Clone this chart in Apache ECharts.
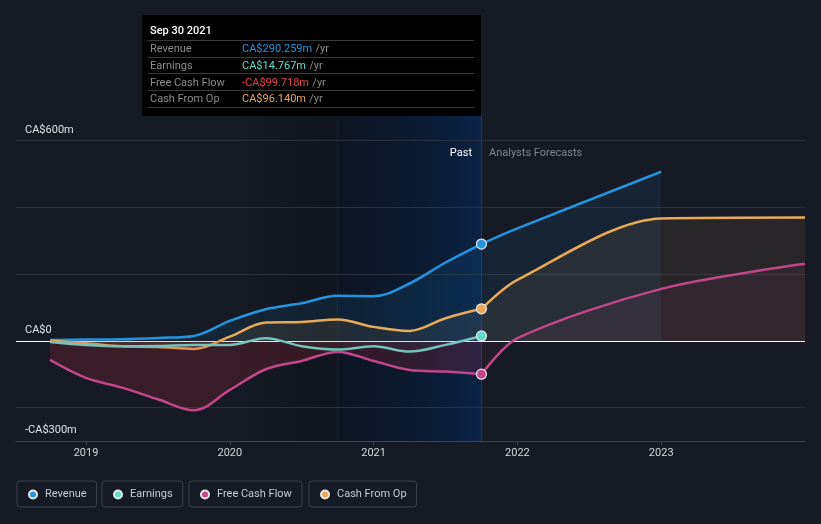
<!DOCTYPE html>
<html>
<head>
<meta charset="utf-8">
<script src="https://cdn.jsdelivr.net/npm/echarts@6.0.0/dist/echarts.min.js"></script>
<style>
html,body{margin:0;padding:0;background:#151a24;}
#chart{width:821px;height:524px;}
</style>
</head>
<body>
<div id="chart"></div>
<script>
// ---- data ----
const pastX = [2018.75, 2019.0, 2019.25, 2019.5, 2019.75, 2020.0, 2020.25, 2020.5, 2020.75, 2021.0, 2021.25, 2021.5, 2021.75];
const revenuePast = [3, 4, 5, 9, 15, 60, 95, 113, 135, 134, 172, 235, 290.259];
const earningsPast = [-3, -12, -16, -15, -12, -12, 8, -16, -26, -16, -32, -12, 14.767];
const fcfPast = [-57, -111, -140, -175, -208, -147, -85, -60, -33, -60, -87, -92, -99.718];
const cfoPast = [1, -7, -16, -18, -24, 13, 55, 57, 64, 42, 30, 68, 96.14];

const revenueFcX = [2021.75, 2022.0, 2023.0];
const revenueFc = [290.259, 337, 507];
const otherFcX = [2021.75, 2022.0, 2023.0, 2024.0];
const fcfFc = [-99.718, 8, 156, 231];
const cfoFc = [96.14, 183, 367, 370];

const yearTicks = [2019, 2020, 2021, 2022, 2023];
const yLabelValues = [-300, 0, 600];
const gridValues = [600, 400, 200, -200];
const tooltipDate = 'Sep 30 2021';

// ---- styling ----
const C = {
  rev: '#2394df', earn: '#5fdccb', fcf: '#c4468a', cfo: '#e8a958'
};
const FONT = 'Roboto, "Noto Sans", sans-serif';

function pairs(xs, ys) { return xs.map((x, i) => [x, ys[i]]); }

function pastSeries(name, xs, ys, color, lineColor, area, z) {
  const n = xs.length;
  return {
    name, type: 'line', data: pairs(xs, ys), smooth: 0.35, z,
    symbol: 'circle', showSymbol: true, showAllSymbol: true,
    symbolSize: (v, p) => p.dataIndex === n - 1 ? 10 : 0,
    color,
    itemStyle: { color, borderColor: '#e8e8e8', borderWidth: 1.2 },
    lineStyle: { width: 2.5, color: lineColor },
    areaStyle: { origin: 0, color: area },
    emphasis: { disabled: true }
  };
}
function fcSeries(name, xs, ys, color, area, z) {
  return {
    name, type: 'line', data: pairs(xs, ys), smooth: 0.3, z,
    symbol: 'none', color,
    lineStyle: { width: 2.5, color },
    areaStyle: { origin: 0, color: area },
    emphasis: { disabled: true }
  };
}

function fmt(v) {
  return (v < 0 ? '-' : '') + 'CA$' + Math.abs(v).toFixed(3) + 'm';
}
const last = a => a[a.length - 1];

const rows = [
  ['Revenue', fmt(last(revenuePast)), C.rev],
  ['Earnings', fmt(last(earningsPast)), '#5fe0cc'],
  ['Free Cash Flow', fmt(last(fcfPast)), '#e8424a'],
  ['Cash From Op', fmt(last(cfoPast)), C.cfo]
];

const graphics = [
  { type: 'rect', shape: { x: 142, y: 15, width: 339, height: 101 }, style: { fill: '#000' }, z: 100 },
  { type: 'text', x: 150, y: 31.5, style: { text: tooltipDate, fill: '#fff', font: '500 11px ' + FONT, verticalAlign: 'middle' }, z: 101 }
];
[40.5, 57.5, 73.5, 90.5, 107.5].forEach(y => {
  graphics.push({ type: 'line', shape: { x1: 148, y1: y, x2: 474, y2: y }, style: { stroke: '#3a3a3a', lineWidth: 1 }, z: 101 });
});
rows.forEach((r, i) => {
  const y = 49.3 + i * 16.8;
  graphics.push({ type: 'text', x: 150, y, style: { text: r[0], fill: '#8d8d8d', font: '11px ' + FONT, verticalAlign: 'middle' }, z: 101 });
  graphics.push({ type: 'text', x: 242, y, style: {
    text: '{v|' + r[1] + '} {u|/yr}', verticalAlign: 'middle',
    rich: { v: { fill: r[2], font: '11px ' + FONT }, u: { fill: '#8d8d8d', font: '11px ' + FONT } }
  }, z: 101 });
});
graphics.push({ type: 'text', x: 472, y: 153, style: { text: 'Past', fill: '#ffffff', font: '11px ' + FONT, align: 'right', verticalAlign: 'middle' }, z: 50 });
graphics.push({ type: 'text', x: 489, y: 153, style: { text: 'Analysts Forecasts', fill: '#80858e', font: '11px ' + FONT, align: 'left', verticalAlign: 'middle' }, z: 50 });

function legend(name, left) {
  return {
    data: [{ name, icon: 'circle' }], left, top: 481,
    itemWidth: 8, itemHeight: 8,
    borderColor: '#3b414b', borderWidth: 1, borderRadius: 3,
    padding: [8, 10, 7, 11],
    textStyle: { color: '#c9ccd1', fontSize: 11, fontFamily: FONT, padding: [0, 0, 0, 3] },
    selectedMode: false
  };
}

const revPast = pastSeries('Revenue', pastX, revenuePast, C.rev, C.rev, 'rgba(35,148,223,0.14)', 5);
revPast.markArea = {
  silent: true,
  data: [
    [{ xAxis: 2020.0, itemStyle: { color: { type: 'linear', x: 0, y: 0, x2: 1, y2: 0, colorStops: [
      { offset: 0, color: 'rgba(0,0,0,0)' }, { offset: 1, color: 'rgba(0,0,0,0.22)' } ] } } }, { xAxis: 2020.75 }],
    [{ xAxis: 2020.75, itemStyle: { color: { type: 'linear', x: 0, y: 0, x2: 1, y2: 0, colorStops: [
      { offset: 0, color: 'rgba(6,16,32,0.45)' }, { offset: 1, color: 'rgba(8,36,74,0.85)' } ] } } }, { xAxis: 2021.75 }]
  ]
};
const cfoPastS = pastSeries('Cash From Op', pastX, cfoPast, C.cfo, C.cfo, 'rgba(232,169,88,0.13)', 6);
cfoPastS.markLine = {
  silent: true, symbol: 'none', animation: false,
  label: { show: false },
  data: gridValues.map(v => ({ yAxis: v, lineStyle: { color: '#2a2f39', width: 1, type: 'solid' } }))
    .concat([
      { xAxis: 2020.75, lineStyle: { color: 'rgba(40,75,120,0.25)', width: 1, type: 'solid' } },
      { xAxis: 2021.75, lineStyle: { color: 'rgba(40,90,150,0.45)', width: 1, type: 'solid' } },
      { yAxis: 0, lineStyle: { color: '#ffffff', width: 1.2, type: 'solid' } }
    ])
};

const option = {
  backgroundColor: '#151a24',
  animation: false,
  textStyle: { fontFamily: FONT },
  graphic: graphics,
  legend: [legend('Revenue', 17), legend('Earnings', 102), legend('Free Cash Flow', 189), legend('Cash From Op', 309)],
  grid: { left: 16, right: 16, top: 114, bottom: 83 },
  xAxis: {
    type: 'value', min: 2018.513, max: 2024.0,
    splitLine: { show: false },
    axisLine: { show: true, onZero: false, lineStyle: { color: '#3d434d' } },
    axisTick: { show: true, length: 4, lineStyle: { color: '#3d434d' }, customValues: yearTicks },
    axisLabel: { color: '#d6d8dc', fontSize: 11, margin: 7, customValues: yearTicks, formatter: v => String(Math.round(v)) }
  },
  yAxis: {
    type: 'value', min: -300, max: 680,
    splitLine: { show: false }, axisLine: { show: false }, axisTick: { show: false },
    axisLabel: {
      inside: true, margin: 9, customValues: yLabelValues, color: '#e2e4e8', fontSize: 11,
      verticalAlign: 'bottom', padding: [0, 0, 5, 0],
      formatter: v => v === 0 ? 'CA$0' : (v < 0 ? '-CA$' + Math.abs(v) + 'm' : 'CA$' + v + 'm')
    }
  },
  series: [
    revPast,
    cfoPastS,
    pastSeries('Free Cash Flow', pastX, fcfPast, C.fcf, C.fcf, 'rgba(222,45,62,0.26)', 8),
    pastSeries('Earnings', pastX, earningsPast, C.earn, '#74c2b9', 'rgba(95,220,203,0.05)', 9),
    fcSeries('Revenue', revenueFcX, revenueFc, C.rev, 'rgba(35,148,223,0.12)', 5),
    fcSeries('Cash From Op', otherFcX, cfoFc, C.cfo, 'rgba(232,169,88,0.13)', 6),
    fcSeries('Free Cash Flow', otherFcX, fcfFc, C.fcf, 'rgba(196,70,138,0.1)', 8)
  ]
};

const chart = echarts.init(document.getElementById('chart'), null, { renderer: 'canvas' });
chart.setOption(option);
</script>
</body>
</html>
